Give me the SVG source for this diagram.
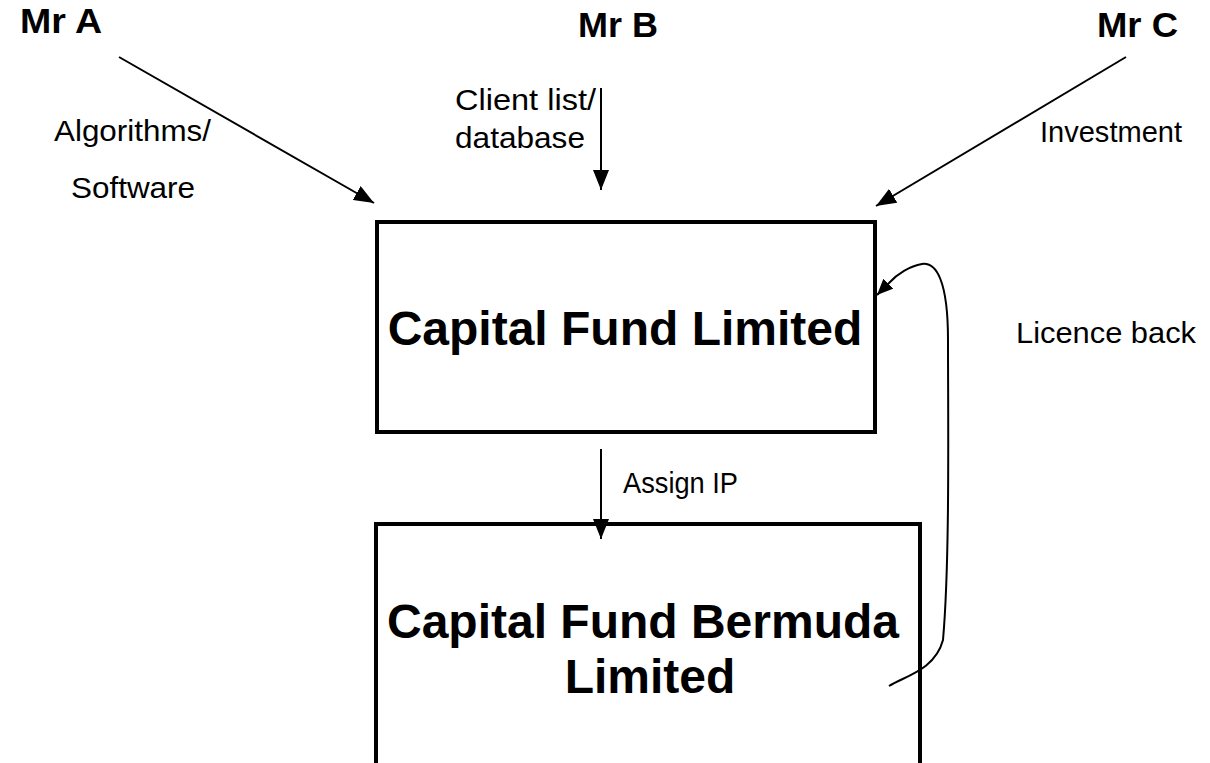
<svg xmlns="http://www.w3.org/2000/svg" width="1210" height="763" viewBox="0 0 1210 763">
  <style>
    .lbl { font-family: "Liberation Sans", Arial, sans-serif; font-size: 30px; fill: #000; }
    .who { font-family: "Liberation Sans", Arial, sans-serif; font-size: 35px; font-weight: bold; fill: #000; }
    .ttl { font-family: "Liberation Sans", Arial, sans-serif; font-size: 48px; font-weight: bold; fill: #000; text-anchor: middle; }
    .box { fill: none; stroke: #000; stroke-width: 4; }
    .conn { fill: none; stroke: #000; stroke-width: 2; }
  </style>
  <defs>
    <marker id="head" markerUnits="userSpaceOnUse" markerWidth="20" markerHeight="16" refX="20" refY="8" orient="auto">
      <path d="M0,0 L20,8 L0,16 z" fill="#000"/>
    </marker>
    <marker id="headSmall" markerUnits="userSpaceOnUse" markerWidth="16" markerHeight="14" refX="16" refY="7" orient="auto">
      <path d="M0,0 L16,7 L0,14 z" fill="#000"/>
    </marker>
  </defs>
  <rect width="1210" height="763" fill="#fff"/>

  <!-- parties -->
  <g id="mr-a"><text class="who" x="20" y="33" textLength="82" lengthAdjust="spacingAndGlyphs">Mr A</text></g>
  <g id="mr-b"><text class="who" x="578" y="37" textLength="80" lengthAdjust="spacingAndGlyphs">Mr B</text></g>
  <g id="mr-c"><text class="who" x="1097" y="37" textLength="81" lengthAdjust="spacingAndGlyphs">Mr C</text></g>

  <!-- companies -->
  <g id="capital-fund-limited">
    <rect class="box" x="377" y="222" width="498" height="210"/>
    <text class="ttl" x="625" y="345">Capital Fund Limited</text>
  </g>
  <g id="capital-fund-bermuda">
    <path class="box" d="M376,770 V524 H920 V770"/>
    <text class="ttl" x="643" y="638">Capital Fund Bermuda</text>
    <text class="ttl" x="650" y="693">Limited</text>
  </g>

  <!-- connectors and their labels -->
  <g id="connectors">
    <line class="conn" x1="119" y1="57" x2="374" y2="203" marker-end="url(#head)"/>
    <line class="conn" x1="601" y1="88" x2="601" y2="190" marker-end="url(#head)"/>
    <line class="conn" x1="1126" y1="57" x2="876" y2="206" marker-end="url(#head)"/>
    <line class="conn" x1="601" y1="449" x2="601" y2="539" marker-end="url(#head)"/>
    <path class="conn" d="M889,686 C905,676 935,670 943,640 C950,560 948,420 948,340 C948,280 936,262 922,264 C910,266 897,274 889,283 L877,295" marker-end="url(#headSmall)"/>
    <text class="lbl" x="54" y="141" textLength="157" lengthAdjust="spacingAndGlyphs">Algorithms/</text>
    <text class="lbl" x="71" y="198" textLength="124" lengthAdjust="spacingAndGlyphs">Software</text>
    <text class="lbl" x="455" y="110" textLength="141" lengthAdjust="spacingAndGlyphs">Client list/</text>
    <text class="lbl" x="455" y="148" textLength="130" lengthAdjust="spacingAndGlyphs">database</text>
    <text class="lbl" x="1040" y="142" textLength="142" lengthAdjust="spacingAndGlyphs">Investment</text>
    <text class="lbl" x="1016" y="343" textLength="180" lengthAdjust="spacingAndGlyphs">Licence back</text>
    <text class="lbl" x="623" y="493" textLength="115" lengthAdjust="spacingAndGlyphs">Assign IP</text>
  </g>
</svg>
